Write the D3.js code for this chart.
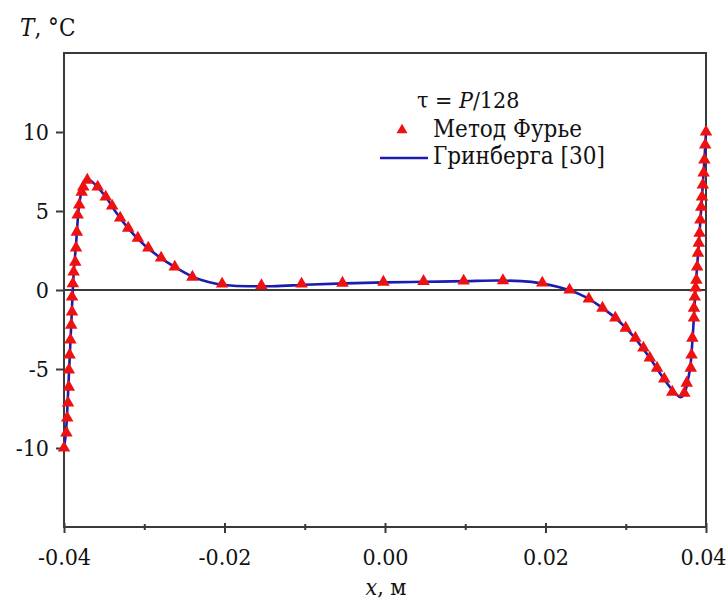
<!DOCTYPE html>
<html><head><meta charset="utf-8">
<script src="https://cdn.jsdelivr.net/npm/d3@7"></script>
<style>body{margin:0;background:#fff} svg text{fill:#111;font-stretch:condensed}</style>
</head><body><svg id="c" width="728" height="603"></svg>
<script>
const fourierX = [-0.0400,-0.0397,-0.0396,-0.0395,-0.0394,-0.0394,-0.0393,-0.0392,-0.0391,-0.0390,-0.0390,-0.0389,-0.0388,-0.0386,-0.0385,-0.0384,-0.0383,-0.0381,-0.0378,-0.0376,-0.0371,
  -0.0358,-0.0348,-0.0340,-0.0330,-0.0320,-0.0308,-0.0295,-0.0279,-0.0262,-0.0240,-0.0203,
  -0.0154,-0.0104,-0.0053,-0.0002,0.0048,0.0098,0.0147,0.0196,0.0230,
  0.0254,0.0271,0.0287,0.0300,0.0312,0.0322,0.0330,0.0339,0.0348,0.0358,0.0373,
  0.0376,0.0381,0.0382,0.0383,0.0385,0.0385,0.0386,0.0387,0.0388,0.0389,0.0390,0.0391,0.0392,0.0393,0.0394,0.0395,0.0396,0.0397,0.0398,0.0399,0.0400];
const fourierT = [-10.0,-9.05,-8.1,-7.15,-6.14,-5.06,-4.11,-3.16,-2.22,-1.39,-0.44,0.4,1.14,1.77,2.66,3.67,4.75,5.38,6.2,6.52,6.96,
  6.52,5.89,5.32,4.56,3.92,3.29,2.66,2.03,1.46,0.82,0.38,
  0.28,0.38,0.44,0.5,0.55,0.57,0.6,0.45,0.0,
  -0.57,-1.14,-1.77,-2.41,-3.04,-3.67,-4.3,-4.94,-5.63,-6.46,-6.52,
  -5.89,-4.94,-4.11,-3.04,-1.77,-1.14,-0.44,0.13,0.63,1.46,2.34,2.97,3.6,4.43,5.25,5.89,6.65,7.41,8.23,9.18,10.0];
const grinbergX = [-0.0400,-0.0397,-0.0394,-0.0391,-0.0388,-0.0385,-0.0382,-0.0378,-0.0374,-0.0371,-0.0365,-0.0358,-0.0348,-0.0335,-0.0320,-0.0300,-0.0280,-0.0260,-0.0240,-0.0220,-0.0200,-0.0170,-0.0140,-0.0100,-0.0050,0.0000,0.0050,0.0100,0.0140,0.0170,0.0195,0.0215,0.0230,0.0250,0.0270,0.0290,0.0310,0.0330,0.0350,0.0362,0.0368,0.0373,0.0377,0.0381,0.0384,0.0387,0.0391,0.0395,0.0398,0.0400];
const grinbergT = [-10.0,-8.6,-5.5,-2.2,1.0,2.9,5.0,6.3,6.9,7.0,6.85,6.5,5.9,4.9,3.9,2.85,2.05,1.4,0.85,0.5,0.32,0.24,0.24,0.33,0.42,0.48,0.52,0.56,0.6,0.56,0.42,0.2,-0.02,-0.45,-1.1,-1.9,-2.95,-4.3,-5.8,-6.55,-6.78,-6.6,-5.8,-4.6,-2.5,0.1,2.9,5.9,8.2,10.0];
const xTickValues = [-0.04,-0.02,0,0.02,0.04];
const xMinorTicks = [-0.03,-0.01,0.01,0.03];
const yTickValues = [-10,-5,0,5,10];
const legendLabels = ["Метод Фурье","Гринберга [30]"];

const W = 728, H = 603;
const m = {left:64, right:22, top:53, bottom:76};
const svg = d3.select("#c");
const x = d3.scaleLinear().domain([-0.04,0.04]).range([m.left, W-m.right]);
const y = d3.scaleLinear().domain([-15,15]).range([H-m.bottom, m.top]);
const axisCol = "#3a3a3a";
const FONT = "'DejaVu Serif Condensed','DejaVu Serif',serif";
const FS = 23;
const fmtX = v => d3.format(".2f")(v).replace("\u2212","-");
const fmtY = v => String(v).replace("\u2212","-");

svg.append("rect").attr("x",x(-0.04)).attr("y",y(15)).attr("width",x(0.04)-x(-0.04)).attr("height",y(-15)-y(15))
  .attr("fill","none").attr("stroke",axisCol).attr("stroke-width",2);
svg.append("line").attr("x1",x(-0.04)).attr("x2",x(0.04)).attr("y1",y(0)).attr("y2",y(0)).attr("stroke",axisCol).attr("stroke-width",1.8);

const gx = svg.append("g").attr("transform",`translate(0,${y(-15)})`)
  .call(d3.axisBottom(x).tickValues(xTickValues).tickFormat(fmtX).tickSize(6).tickPadding(16));
gx.attr("font-family",FONT);
gx.select(".domain").remove();
gx.selectAll(".tick line").attr("stroke",axisCol).attr("stroke-width",2).attr("y1",-4);
gx.selectAll(".tick text").attr("font-size",FS).attr("fill","#111")
  .attr("dx",d=>d===0.04?-3:0);
const gxm = svg.append("g").attr("transform",`translate(0,${y(-15)})`)
  .call(d3.axisBottom(x).tickValues(xMinorTicks).tickFormat("").tickSize(3));
gxm.select(".domain").remove();
gxm.selectAll(".tick line").attr("stroke",axisCol).attr("stroke-width",2).attr("y1",-3);

const gy = svg.append("g").attr("transform",`translate(${x(-0.04)},0)`)
  .call(d3.axisLeft(y).tickValues(yTickValues).tickFormat(fmtY).tickSize(8).tickPadding(7));
gy.attr("font-family",FONT);
gy.select(".domain").remove();
gy.selectAll(".tick line").attr("stroke",axisCol).attr("stroke-width",2);
gy.selectAll(".tick text").attr("font-size",FS).attr("fill","#111");

const pts = grinbergX.map((v,i)=>[v,grinbergT[i]]);
svg.append("path").datum(pts)
  .attr("d", d3.line().x(d=>x(d[0])).y(d=>y(d[1])).curve(d3.curveMonotoneX))
  .attr("fill","none").attr("stroke","#1c1cb0").attr("stroke-width",2.6);

const tri = d3.symbol().type(d3.symbolTriangle).size(68);
svg.append("g").selectAll("path").data(fourierX.map((v,i)=>[v,fourierT[i]])).join("path")
  .attr("d",tri).attr("transform",d=>`translate(${x(d[0])},${y(d[1])})`)
  .attr("fill","#ee1111");

svg.append("text").attr("x",20).attr("y",36).attr("font-size",FS+1).attr("font-family",FONT)
  .html('<tspan font-style="italic">T</tspan>, °C');
svg.append("text").attr("x",386).attr("y",595).attr("font-size",FS).attr("text-anchor","middle").attr("font-family",FONT)
  .html('<tspan font-style="italic">x</tspan>, м');

svg.append("text").attr("x",417).attr("y",108).attr("font-size",FS).attr("font-family",FONT)
  .html('τ = <tspan font-style="italic">P</tspan>/128');
svg.append("path").attr("d",d3.symbol().type(d3.symbolTriangle).size(52)).attr("transform","translate(402,130)").attr("fill","#ee1111");
svg.append("text").attr("x",433).attr("y",137).attr("font-size",FS+1).attr("font-family",FONT).text(legendLabels[0]);
svg.append("line").attr("x1",380).attr("x2",428).attr("y1",158).attr("y2",158).attr("stroke","#1c1cb0").attr("stroke-width",2.6);
svg.append("text").attr("x",433).attr("y",164).attr("font-size",FS+1).attr("font-family",FONT).text(legendLabels[1]);
</script></body></html>
